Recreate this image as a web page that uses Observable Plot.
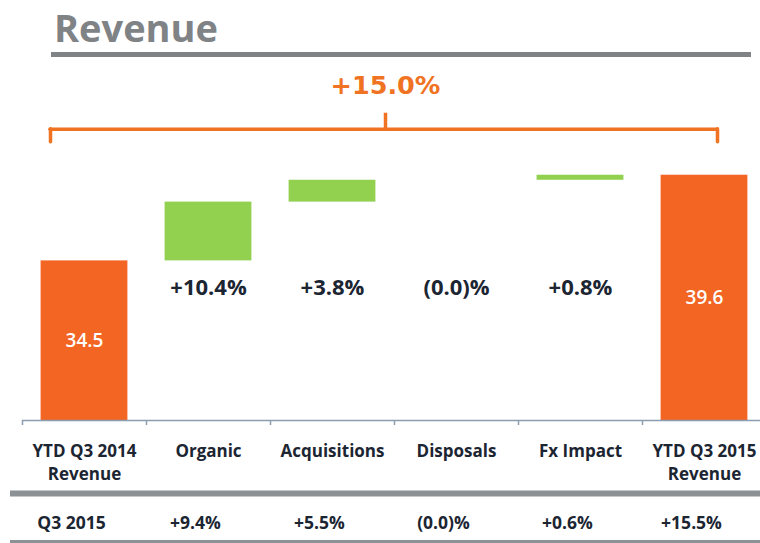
<!DOCTYPE html>
<html>
<head>
<meta charset="utf-8">
<script src="https://cdn.jsdelivr.net/npm/d3@7"></script>
<script src="https://cdn.jsdelivr.net/npm/@observablehq/plot@0.6"></script>
<style>
  html, body { margin: 0; padding: 0; background: #ffffff; }
  #hdr { position: relative; width: 760px; height: 60px; }
  #title { position: absolute; left: 54px; top: 8px; font: bold 38px/38px "Open Sans", sans-serif; color: #7f8386; }
  #rule { position: absolute; left: 51px; top: 52px; width: 700px; height: 5px; background: #7f8386; }
  #chart svg { display: block; }
</style>
</head>
<body>
<div id="hdr"><div id="title">Revenue</div><div id="rule"></div></div>
<div id="chart"></div>
<script>
// ---- data ----
const categories = ["YTD Q3 2014\nRevenue", "Organic", "Acquisitions", "Disposals", "Fx Impact", "YTD Q3 2015\nRevenue"];
const startValue = 34.5;
const endValue = 39.6;
const changes = [3.5, 1.3, 0.0, 0.3];
const changeLabels = ["+10.4%", "+3.8%", "(0.0)%", "+0.8%"];
const totalGrowthLabel = "+15.0%";
const rowLabel = "Q3 2015";
const rowValues = ["+9.4%", "+5.5%", "(0.0)%", "+0.6%", "+15.5%"];
const axisMin = 25;
const axisMax = 40;

// ---- derived tables ----
const orange = "#f26522";
const bracketOrange = "#f07323";
const green = "#92d050";
const ink = "#1c2532";
const totals = [
  {cat: categories[0], y1: axisMin, y2: startValue},
  {cat: categories[5], y1: axisMin, y2: endValue}
];
let run = startValue;
const steps = changes.map((d, i) => {
  const row = {cat: categories[i + 1], y1: run, y2: run + d, label: changeLabels[i]};
  run += d;
  return row;
});
const tableRow = categories.map((c, i) => ({cat: c, text: i === 0 ? rowLabel : rowValues[i - 1]}));
const fmt = d3.format(".1f");

const chart = Plot.plot({
  width: 760,
  height: 483,
  marginLeft: 10,
  marginRight: 0,
  marginTop: 0,
  marginBottom: 123,
  x: {type: "band", domain: categories, range: [22, 766], paddingInner: 0.3, paddingOuter: 0.15, round: false, axis: null},
  y: {domain: [axisMin, axisMax], range: [360, 108], axis: null},
  style: {fontFamily: "'Open Sans', sans-serif", background: "#ffffff", overflow: "visible"},
  marks: [
    // bars
    Plot.barY(totals, {x: "cat", y1: "y1", y2: "y2", fill: orange}),
    Plot.barY(steps, {x: "cat", y1: "y1", y2: "y2", fill: green}),
    // value labels inside total bars
    Plot.text(totals, {x: "cat", y: d => (d.y1 + d.y2) / 2, text: d => fmt(d.y2), fill: "#ffffff", fontSize: 19, fontWeight: 600}),
    // change labels
    Plot.text(steps, {x: "cat", y: () => startValue, dy: 27, text: "label", fill: ink, fontSize: 22, fontWeight: "bold"}),
    // axis baseline and boundary ticks
    Plot.ruleY([axisMin], {x1: () => categories[0], x2: () => categories[categories.length - 1], insetLeft: -18.6, insetRight: -18.6, stroke: "#8a9db1", strokeWidth: 1.5}),
    Plot.ruleX(categories, {x: d => d, y1: () => axisMin, y2: () => axisMin, dx: -62, insetBottom: -5, stroke: "#8a9db1", strokeWidth: 1.5}),
    // category labels
    Plot.text(categories, {x: d => d, y: () => axisMin, dy: 20, lineAnchor: "top", text: d => d, fill: ink, fontSize: 17, fontWeight: "bold", lineHeight: 1.35}),
    // table rules and row
    Plot.ruleY([axisMin], {dy: 73, stroke: "#8c9196", strokeWidth: 6}),
    Plot.ruleY([axisMin], {dy: 121, stroke: "#8c9196", strokeWidth: 3}),
    Plot.text(tableRow, {x: "cat", y: () => axisMin, dx: -13, dy: 103, text: "text", fill: ink, fontSize: 17.5, fontWeight: "bold"}),
    // bracket
    Plot.ruleY([endValue], {x1: () => categories[0], x2: () => categories[categories.length - 1], dy: -46, insetLeft: 9.4, insetRight: 30.4, stroke: bracketOrange, strokeWidth: 3.5, strokeLinecap: "round"}),
    Plot.ruleX([categories[0]], {x: d => d, y1: () => endValue, y2: () => endValue, dx: -34, dy: -46, insetBottom: -13, stroke: bracketOrange, strokeWidth: 3.5, strokeLinecap: "round"}),
    Plot.ruleX([categories[categories.length - 1]], {x: d => d, y1: () => endValue, y2: () => endValue, dx: 13, dy: -46, insetBottom: -13, stroke: bracketOrange, strokeWidth: 3.5, strokeLinecap: "round"}),
    Plot.ruleX([endValue], {x: null, y1: d => d, y2: d => d, dy: -46, insetTop: -16, stroke: bracketOrange, strokeWidth: 3.5}),
    // total growth label
    Plot.text([totalGrowthLabel], {frameAnchor: "top", lineAnchor: "top", dy: 15, text: d => d, fill: bracketOrange, fontSize: 25.5, fontWeight: "bold", fontFamily: "'DejaVu Sans', sans-serif"})
  ]
});
document.getElementById("chart").appendChild(chart);
</script>
</body>
</html>
